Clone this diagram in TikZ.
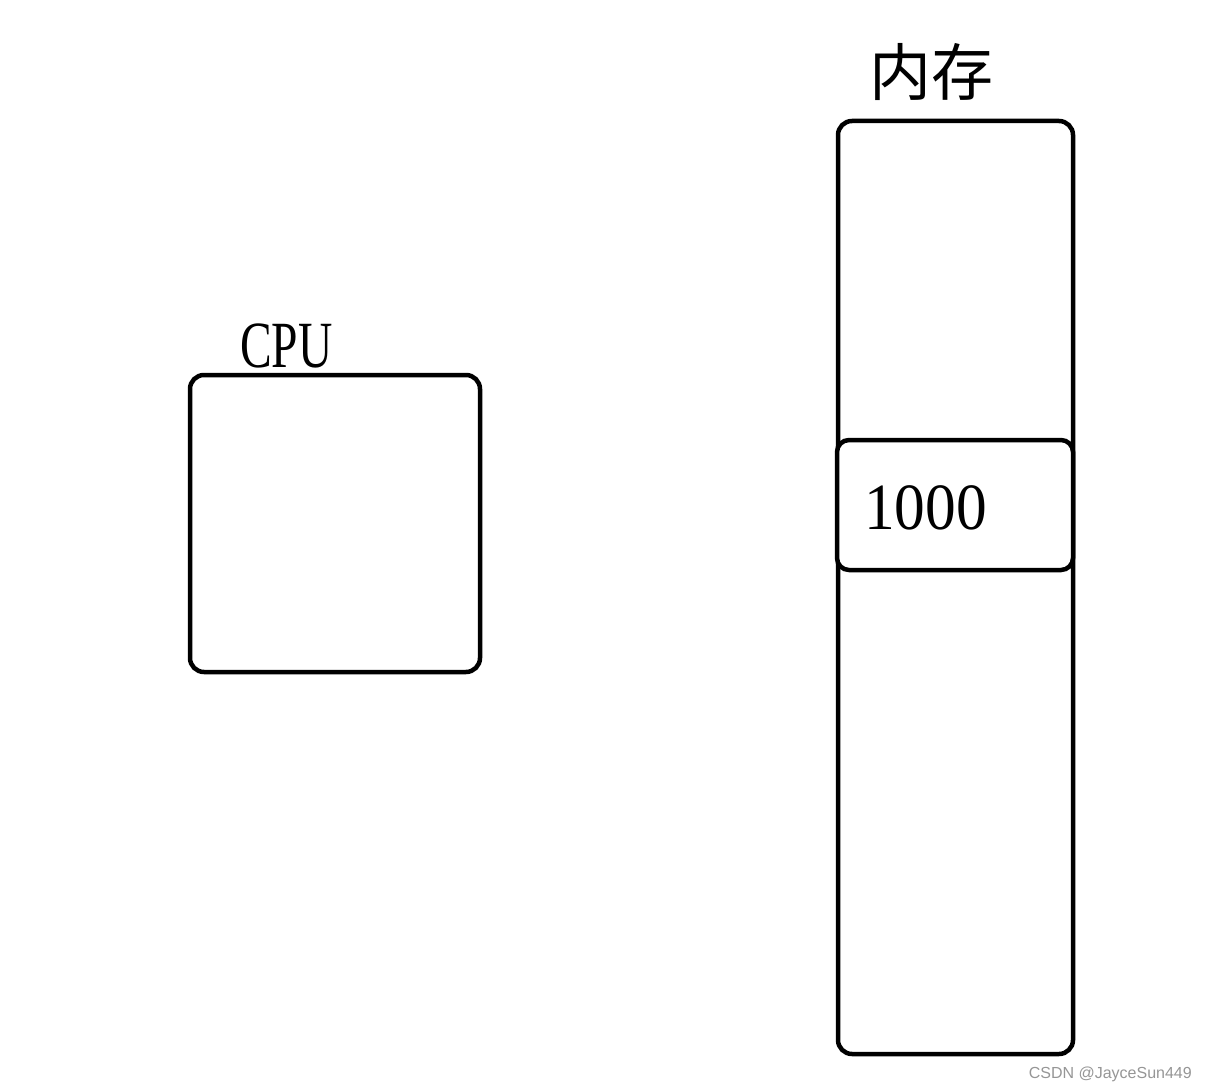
\documentclass[tikz,border=0pt]{standalone}
\usepackage{fontspec}
\setmainfont{Liberation Serif}
\newfontfamily\cjkfont{Noto Sans CJK SC}
\newfontfamily\wmfont{Liberation Sans}
\definecolor{wmgray}{RGB}{150,150,150}
\begin{document}
\begin{tikzpicture}[x=1pt,y=-1pt,
  boxstyle/.style={draw=black, line width=4.5pt, rounded corners=14pt, inner sep=0pt},
  labelstyle/.style={inner sep=0pt, anchor=base west}]
\useasboundingbox[fill=white] (0,0) rectangle (1207,1091);
% CPU box
\node[boxstyle, minimum width=290pt, minimum height=297pt] (cpu) at (335,523.5) {};
\node[labelstyle] (cpulabel) at (240,367) {\scalebox{0.72}[1]{\fontsize{66}{66}\selectfont CPU}};
% memory
\node[boxstyle, minimum width=235pt, minimum height=933pt] (mem) at (955.5,587.5) {};
\node[boxstyle, fill=white, rounded corners=12pt, minimum width=236pt, minimum height=130pt] (cell) at (955,505) {};
\node[labelstyle] (celltext) at (864,529) {\scalebox{0.93}[1]{\fontsize{66}{66}\selectfont 1000}};
\node[inner sep=0pt] (memlabel) at (931,72) {\cjkfont\fontsize{62}{62}\selectfont 内存};
% watermark
\node[inner sep=0pt, anchor=base east, text=wmgray] (wm) at (1192,1078) {\wmfont\fontsize{16}{16}\selectfont CSDN @JayceSun449};
\end{tikzpicture}
\end{document}
